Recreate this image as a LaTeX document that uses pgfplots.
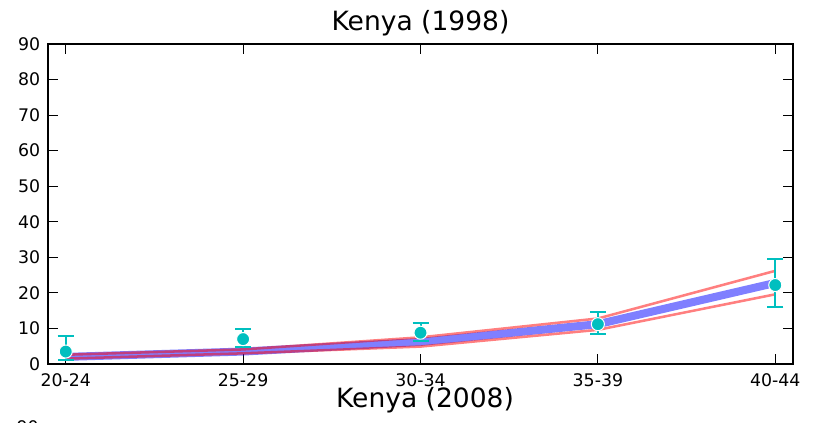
\documentclass[border=0pt]{standalone}
\usepackage{fontspec}
\setmainfont{DejaVu Sans}
\usepackage{pgfplots}
\pgfplotsset{compat=1.18}
\definecolor{tealc}{RGB}{0,191,191}
\begin{document}
\begin{tikzpicture}
\begin{axis}[
  name=ax,
  at={(0pt,0pt)}, anchor=south west,
  scale only axis, width=558.75pt, height=240pt,
  xmin=-0.1, xmax=4.1, ymin=0, ymax=90,
  xtick={0,1,2,3,4}, xticklabels={20-24,25-29,30-34,35-39,40-44},
  ytick={0,10,...,90},
  tick align=inside, tick pos=both,
  major tick length=7.5pt,
  every tick/.style={black, line width=0.8pt},
  axis line style={line width=1.6pt},
  ticklabel style={font=\fontsize{13}{15}\selectfont},
  /pgf/number format/assume math mode=true,
  yticklabel style={xshift=-2.4pt},
  xticklabel style={yshift=-4pt},
  title={Kenya (1998)},
  title style={font=\fontsize{19.9}{24}\selectfont, anchor=base, at={(0.5,1)}, yshift=3.75pt},
  clip=false,
]
\addplot[blue, draw opacity=0.5, line width=6pt, line join=round] coordinates {
  (0,2.0) (1,3.5) (2,6.2) (3,11.2) (4,22.8)};
\addplot[red, draw opacity=0.5, line width=1.9pt] coordinates {
  (0,2.6) (1,4.1) (2,7.5) (3,12.8) (4,26.2)};
\addplot[red, draw opacity=0.5, line width=1.9pt] coordinates {
  (0,1.5) (1,3.0) (2,4.9) (3,9.6) (4,19.6)};
\addplot[only marks, mark=*, mark size=4.9pt,
  mark options={fill=tealc, draw=white, line width=0.75pt},
  error bars/.cd, y dir=both, y explicit,
  error bar style={tealc, line width=1.5pt},
  error mark options={tealc, mark size=6pt, line width=1.5pt, rotate=90}]
  table[x=x, y=y, y error plus=ep, y error minus=em] {
  x y ep em
  0 3.5 4.5 2.5
  1 7.0 2.75 2.1
  2 8.8 2.8 2.2
  3 11.2 3.3 2.9
  4 22.2 7.2 6.1
};
\end{axis}
\node[anchor=base, font=\fontsize{19.9}{24}\selectfont] at ([shift={(282.75pt,-33pt)}]ax.south west) {Kenya (2008)};
\node[anchor=north east, inner sep=0pt, font=\fontsize{13}{15}\selectfont] at ([shift={(-6.75pt,-42pt)}]ax.south west) {90};
\pgfresetboundingbox
\path ([shift={(-36pt,-44.25pt)}]ax.south west) rectangle ++(615pt,317.25pt);
\end{tikzpicture}
\end{document}
